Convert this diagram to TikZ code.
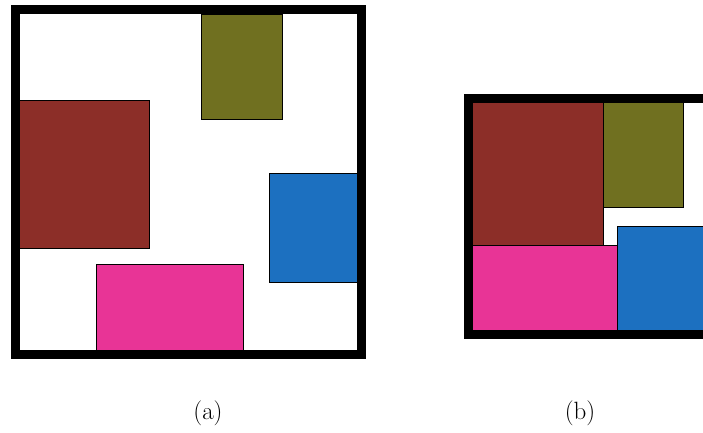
\documentclass[tikz,border=0pt]{standalone}
\begin{document}
\begin{tikzpicture}[x=1pt,y=1pt,
  frame/.style={draw=black,line width=8.5pt},
  blk/.style={draw=black,line width=0.9pt},
  lbl/.style={font=\fontsize{25}{30}\selectfont,inner sep=0pt}]
\definecolor{cbrown}{RGB}{140,46,40}
\definecolor{colive}{RGB}{112,112,32}
\definecolor{cblue}{RGB}{28,112,192}
\definecolor{cpink}{RGB}{232,52,150}
\useasboundingbox (0,0) rectangle (703,432);
\clip (0,0) rectangle (703,432);
% (a)
\fill[white] (15,77) rectangle (362,423);
\filldraw[blk,fill=colive] (201,418) rectangle (282,313);
\filldraw[blk,fill=cbrown] (18,332) rectangle (149,184);
\filldraw[blk,fill=cblue] (269,259) rectangle (359,150);
\filldraw[blk,fill=cpink] (96,168) rectangle (243,80);
\draw[frame] (15.5,422.5) rectangle (361.5,77.5);
% (b)
\filldraw[blk,fill=cbrown] (471,332) rectangle (603,187);
\filldraw[blk,fill=colive] (603,332) rectangle (683,225);
\filldraw[blk,fill=cpink] (471,187) rectangle (617,99);
\filldraw[blk,fill=cblue] (617,206) rectangle (712,99);
\draw[frame] (468.5,333.5) rectangle (730,97.5);
% labels
\node[lbl] (la) at (208,19) {(a)};
\node[lbl] (lb) at (580,19) {(b)};
\end{tikzpicture}
\end{document}
